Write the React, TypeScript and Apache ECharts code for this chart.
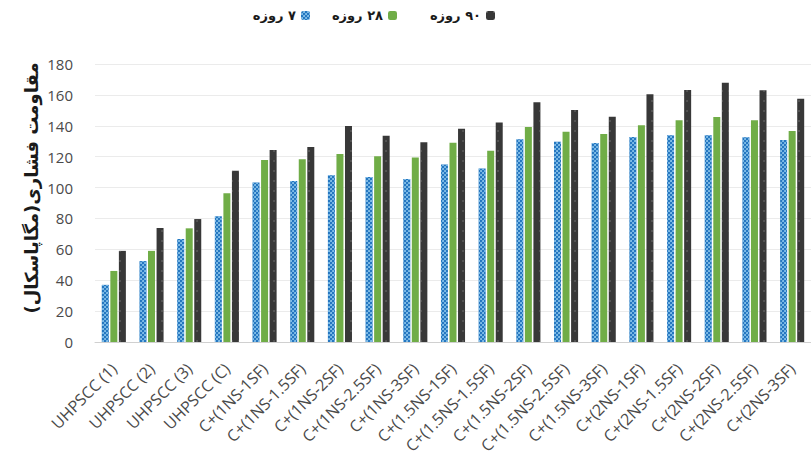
import React, { useEffect, useRef } from "react";
import * as echarts from "echarts";

const categories = [
  "UHPSCC (1)", "UHPSCC (2)", "UHPSCC (3)", "UHPSCC (C)",
  "C+(1NS-1SF)", "C+(1NS-1.5SF)", "C+(1NS-2SF)", "C+(1NS-2.5SF)", "C+(1NS-3SF)",
  "C+(1.5NS-1SF)", "C+(1.5NS-1.5SF)", "C+(1.5NS-2SF)", "C+(1.5NS-2.5SF)", "C+(1.5NS-3SF)",
  "C+(2NS-1SF)", "C+(2NS-1.5SF)", "C+(2NS-2SF)", "C+(2NS-2.5SF)", "C+(2NS-3SF)",
];
const day7 = [37, 52.4, 66.7, 81.4, 103.2, 104.2, 107.9, 106.8, 105.5, 115, 112.4, 131.2, 129.7, 128.9, 132.7, 133.8, 133.8, 132.5, 130.8];
const day28 = [46, 59, 73.6, 96.3, 117.8, 118.4, 121.7, 120.2, 119.4, 129, 123.9, 139.2, 136.2, 134.7, 140.3, 143.5, 145.7, 143.5, 136.6];
const day90 = [59, 73.8, 79.6, 110.9, 124.3, 126.3, 139.9, 133.6, 129.3, 138.1, 142.2, 155.2, 150.2, 145.9, 160.4, 163.2, 167.9, 163, 157.5];
const seriesNames = ["\u202B۷ روزه\u202C", "\u202B۲۸ روزه\u202C", "\u202B۹۰ روزه\u202C"];
const yTitle = "\u202Bمقاومت فشاری(مگاپاسکال)\u202C";
const yMin = 0;
const yMax = 180;
const yStep = 20;

export default function App() {
  const ref = useRef<HTMLDivElement>(null);
  useEffect(() => {
    const chart = echarts.init(ref.current!, null, { renderer: "svg" });
    const legendCommon = {
      top: 9,
      align: "right" as const,
      itemWidth: 9,
      itemHeight: 9,
      padding: 0,
      textStyle: { fontFamily: "DejaVu Sans", fontWeight: "bold" as const, fontSize: 13, color: "#1a1a1a" },
    };
    chart.setOption({
      animation: false,
      backgroundColor: "#ffffff",
      legend: [
        { ...legendCommon, right: 501, data: [seriesNames[0]] },
        { ...legendCommon, right: 414, data: [seriesNames[1]] },
        { ...legendCommon, right: 316, data: [seriesNames[2]] },
      ],
      grid: { left: 95, right: -6, top: 64, bottom: 117, containLabel: false },
      xAxis: {
        type: "category",
        data: categories,
        axisLine: { lineStyle: { color: "#d0d0d0", width: 1 } },
        axisTick: { show: false },
        axisLabel: {
          interval: 0,
          rotate: 45,
          margin: 24,
          fontSize: 16,
          fontFamily: "Open Sans",
          color: "#4a4a4a",
        },
      },
      yAxis: {
        type: "value",
        min: yMin,
        max: yMax,
        interval: yStep,
        axisLine: { show: false },
        axisTick: { show: false },
        splitLine: { lineStyle: { color: "#ebebeb", width: 1 } },
        axisLabel: { margin: 22, fontSize: 15, fontFamily: "Open Sans", color: "#4a4a4a" },
      },
      graphic: [
        {
          type: "text",
          x: 31,
          y: 188,
          rotation: Math.PI / 2,
          style: {
            text: yTitle,
            fontFamily: "DejaVu Sans",
            fontWeight: "bold",
            fontSize: 18,
            fill: "#1a1a1a",
            textAlign: "center",
            textVerticalAlign: "middle",
          },
        },
      ],
      series: [
        {
          name: seriesNames[0],
          type: "bar",
          data: day7,
          barWidth: 7,
          barGap: "22%",
          itemStyle: {
            color: "#2476c0",
            decal: {
              symbol: "circle",
              symbolSize: 0.9,
              color: "rgba(165,218,248,0.9)",
              dashArrayX: [[1.5, 1.5], [0, 1.5, 1.5, 0]],
              dashArrayY: [1.5, 0],
              rotation: 0,
            },
          },
        },
        {
          name: seriesNames[1],
          type: "bar",
          data: day28,
          barWidth: 7,
          barGap: "22%",
          itemStyle: { color: "#70ad47" },
        },
        {
          name: seriesNames[2],
          type: "bar",
          data: day90,
          barWidth: 7,
          barGap: "22%",
          itemStyle: {
            color: "#383838",
            decal: {
              symbol: "circle",
              symbolSize: 0.6,
              color: "rgba(150,150,150,0.8)",
              dashArrayX: [2, 5],
              dashArrayY: [2, 8],
              rotation: 0,
            },
          },
        },
      ],
    });
    return () => chart.dispose();
  }, []);
  return (
    <div
      ref={ref}
      style={{ position: "fixed", left: 0, top: 0, width: 811, height: 459, overflow: "hidden" }}
    />
  );
}
